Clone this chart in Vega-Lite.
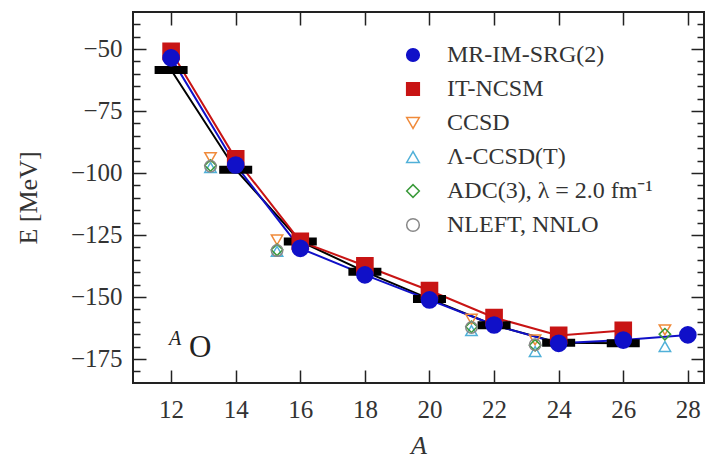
{
  "$schema": "https://vega.github.io/schema/vega-lite/v6.json",
  "width": 571,
  "height": 371,
  "autosize": "none",
  "padding": {"left": 133, "top": 12, "right": 3, "bottom": 79},
  "background": "white",
  "config": {
    "font": "Liberation Serif",
    "view": {"stroke": "#222", "strokeWidth": 2},
    "axis": {"grid": false, "domain": false, "tickColor": "#222", "tickWidth": 1.5, "labelFont": "Liberation Serif", "titleFont": "Liberation Serif", "labelColor": "#333", "titleColor": "#333", "titleFontWeight": "normal", "labelFontSize": 25, "titleFontSize": 26},
    "legend": {"orient": "none", "legendX": 268, "legendY": 31, "padding": 0, "labelFont": "Liberation Serif", "labelFontSize": 24, "labelColor": "#333", "labelLimit": 400, "symbolSize": 160, "symbolStrokeWidth": 1.5, "rowPadding": 10, "labelOffset": 22, "title": null}
  },
  "datasets": {
    "exp": [
      {"A": 12, "E": -58.5},
      {"A": 14, "E": -98.7},
      {"A": 16, "E": -127.6},
      {"A": 18, "E": -139.8},
      {"A": 20, "E": -150.8},
      {"A": 22, "E": -161.4},
      {"A": 24, "E": -168.5},
      {"A": 26, "E": -168.7}
    ],
    "theory": [
      {"series": "IT-NCSM", "A": 12, "E": -51.0},
      {"series": "IT-NCSM", "A": 14, "E": -94.3},
      {"series": "IT-NCSM", "A": 16, "E": -127.6},
      {"series": "IT-NCSM", "A": 18, "E": -137.4},
      {"series": "IT-NCSM", "A": 20, "E": -147.4},
      {"series": "IT-NCSM", "A": 22, "E": -158.3},
      {"series": "IT-NCSM", "A": 24, "E": -165.5},
      {"series": "IT-NCSM", "A": 26, "E": -163.5},
      {"series": "MR-IM-SRG(2)", "A": 12, "E": -53.6},
      {"series": "MR-IM-SRG(2)", "A": 14, "E": -96.8},
      {"series": "MR-IM-SRG(2)", "A": 16, "E": -130.4},
      {"series": "MR-IM-SRG(2)", "A": 18, "E": -141.1},
      {"series": "MR-IM-SRG(2)", "A": 20, "E": -151.2},
      {"series": "MR-IM-SRG(2)", "A": 22, "E": -161.3},
      {"series": "MR-IM-SRG(2)", "A": 24, "E": -168.7},
      {"series": "MR-IM-SRG(2)", "A": 26, "E": -167.4},
      {"series": "MR-IM-SRG(2)", "A": 28, "E": -165.3},
      {"series": "CCSD", "A": 13.22, "E": -93.8},
      {"series": "CCSD", "A": 15.28, "E": -127.0},
      {"series": "CCSD", "A": 21.3, "E": -159.0},
      {"series": "CCSD", "A": 23.27, "E": -167.3},
      {"series": "CCSD", "A": 27.29, "E": -163.3},
      {"series": "Λ-CCSD(T)", "A": 13.22, "E": -97.8},
      {"series": "Λ-CCSD(T)", "A": 15.28, "E": -131.6},
      {"series": "Λ-CCSD(T)", "A": 21.3, "E": -163.6},
      {"series": "Λ-CCSD(T)", "A": 23.27, "E": -172.0},
      {"series": "Λ-CCSD(T)", "A": 27.29, "E": -170.0},
      {"series": "ADC(3), λ = 2.0 fm⁻¹", "A": 13.22, "E": -97.0},
      {"series": "ADC(3), λ = 2.0 fm⁻¹", "A": 15.28, "E": -131.0},
      {"series": "ADC(3), λ = 2.0 fm⁻¹", "A": 21.3, "E": -162.0},
      {"series": "ADC(3), λ = 2.0 fm⁻¹", "A": 23.27, "E": -169.5},
      {"series": "ADC(3), λ = 2.0 fm⁻¹", "A": 27.29, "E": -165.0},
      {"series": "NLEFT, NNLO", "A": 13.22, "E": -97.3},
      {"series": "NLEFT, NNLO", "A": 15.28, "E": -131.3},
      {"series": "NLEFT, NNLO", "A": 21.3, "E": -162.3},
      {"series": "NLEFT, NNLO", "A": 23.27, "E": -169.3}
    ],
    "notes": [
      {"A": 12.12, "E": -167.0, "t": "A", "kind": "sup"},
      {"A": 12.9, "E": -170.6, "t": "O", "kind": "main"}
    ]
  },
  "resolve": {"axis": {"x": "independent", "y": "independent"}},
  "layer": [
    {
      "data": {"name": "exp"},
      "mark": {"type": "line", "color": "white", "strokeWidth": 5},
      "encoding": {
        "x": {"field": "A", "type": "quantitative", "scale": {"domain": [10.82, 28.5], "nice": false, "zero": false},
              "axis": {"orient": "bottom", "values": [12, 14, 16, 18, 20, 22, 24, 26, 28], "tickSize": -13, "labelPadding": 27, "labelFont": "Liberation Serif", "title": "A", "titleFont": "Liberation Serif", "titleFontStyle": "italic", "titlePadding": 10}},
        "y": {"field": "E", "type": "quantitative", "scale": {"domain": [-184.7, -35.1], "nice": false, "zero": false},
              "axis": {"orient": "left", "values": [-180, -175, -170, -165, -160, -155, -150, -145, -140, -135, -130, -125, -120, -115, -110, -105, -100, -95, -90, -85, -80, -75, -70, -65, -60, -55, -50, -45, -40],
                       "tickSize": {"condition": {"test": "datum.value % 25 === 0", "value": -13}, "value": -7},
                       "labelExpr": "datum.value % 25 === 0 ? '−' + abs(datum.value) : ''",
                       "labelFont": "Liberation Serif",
                       "labelPadding": 24, "title": "E [MeV]", "titleFont": "Liberation Serif", "titlePadding": 29}}
      }
    },
    {
      "data": {"name": "exp"},
      "mark": {"type": "line", "color": "black", "strokeWidth": 2},
      "encoding": {
        "x": {"field": "A", "type": "quantitative", "axis": {"orient": "top", "values": [12, 14, 16, 18, 20, 22, 24, 26, 28], "tickSize": -13, "labels": false, "title": null}},
        "y": {"field": "E", "type": "quantitative", "axis": {"orient": "right", "values": [-180, -175, -170, -165, -160, -155, -150, -145, -140, -135, -130, -125, -120, -115, -110, -105, -100, -95, -90, -85, -80, -75, -70, -65, -60, -55, -50, -45, -40],
                       "tickSize": {"condition": {"test": "datum.value % 25 === 0", "value": -13}, "value": -7}, "labels": false, "title": null}}
      }
    },
    {
      "data": {"name": "theory"},
      "transform": [{"filter": "datum.series === 'IT-NCSM'"}],
      "mark": {"type": "line", "color": "#c81414", "strokeWidth": 2},
      "encoding": {
        "x": {"field": "A", "type": "quantitative", "axis": null},
        "y": {"field": "E", "type": "quantitative", "axis": null}
      }
    },
    {
      "data": {"name": "theory"},
      "transform": [{"filter": "datum.series === 'MR-IM-SRG(2)'"}],
      "mark": {"type": "line", "color": "#1010c8", "strokeWidth": 2},
      "encoding": {
        "x": {"field": "A", "type": "quantitative", "axis": null},
        "y": {"field": "E", "type": "quantitative", "axis": null}
      }
    },
    {
      "data": {"name": "exp"},
      "mark": {"type": "tick", "orient": "horizontal", "color": "black", "size": 33, "thickness": 8, "opacity": 1},
      "encoding": {
        "x": {"field": "A", "type": "quantitative", "axis": null},
        "y": {"field": "E", "type": "quantitative", "axis": null}
      }
    },
    {
      "data": {"name": "theory"},
      "mark": {"type": "point", "strokeWidth": 1.5, "opacity": 1},
      "encoding": {
        "x": {"field": "A", "type": "quantitative", "axis": null},
        "y": {"field": "E", "type": "quantitative", "axis": null},
        "shape": {"field": "series", "type": "nominal",
                  "scale": {"domain": ["MR-IM-SRG(2)", "IT-NCSM", "CCSD", "Λ-CCSD(T)", "ADC(3), λ = 2.0 fm⁻¹", "NLEFT, NNLO"],
                            "range": ["circle", "square", "triangle-down", "triangle-up", "diamond", "circle"]}},
        "stroke": {"field": "series", "type": "nominal",
                   "scale": {"domain": ["MR-IM-SRG(2)", "IT-NCSM", "CCSD", "Λ-CCSD(T)", "ADC(3), λ = 2.0 fm⁻¹", "NLEFT, NNLO"],
                             "range": ["#1010c8", "#c81414", "#f08a3a", "#50b0d8", "#3a9a3a", "#888888"]}},
        "fill": {"field": "series", "type": "nominal",
                 "scale": {"domain": ["MR-IM-SRG(2)", "IT-NCSM", "CCSD", "Λ-CCSD(T)", "ADC(3), λ = 2.0 fm⁻¹", "NLEFT, NNLO"],
                           "range": ["#1010c8", "#c81414", "transparent", "transparent", "transparent", "transparent"]}},
        "size": {"condition": {"test": "datum.series === 'MR-IM-SRG(2)' || datum.series === 'IT-NCSM'", "value": 260}, "value": 130}
      }
    },
    {
      "data": {"name": "notes"},
      "transform": [{"filter": "datum.kind === 'sup'"}],
      "mark": {"type": "text", "font": "Liberation Serif", "fontSize": 20, "fontStyle": "italic", "color": "#222", "align": "center", "baseline": "middle"},
      "encoding": {
        "x": {"field": "A", "type": "quantitative", "axis": null},
        "y": {"field": "E", "type": "quantitative", "axis": null},
        "text": {"field": "t"}
      }
    },
    {
      "data": {"name": "notes"},
      "transform": [{"filter": "datum.kind === 'main'"}],
      "mark": {"type": "text", "font": "Liberation Serif", "fontSize": 31, "color": "#222", "align": "center", "baseline": "middle"},
      "encoding": {
        "x": {"field": "A", "type": "quantitative", "axis": null},
        "y": {"field": "E", "type": "quantitative", "axis": null},
        "text": {"field": "t"}
      }
    }
  ]
}
